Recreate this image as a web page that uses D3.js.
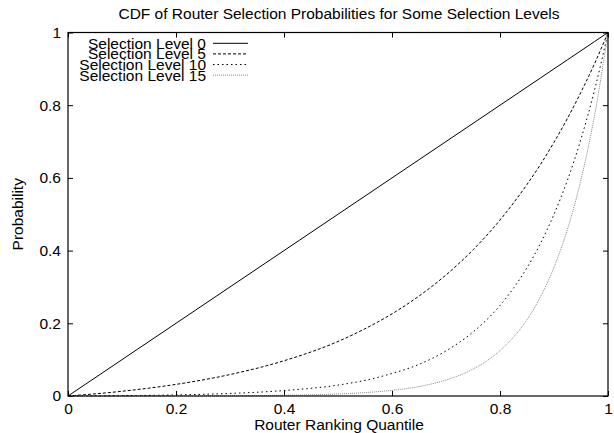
<!DOCTYPE html>
<html>
<head>
<meta charset="utf-8">
<script src="https://cdn.jsdelivr.net/npm/d3@7"></script>
<style>
  body { margin: 0; background: #fff; }
  text { font-family: "Liberation Sans", Arial, sans-serif; fill: #000; }
</style>
</head>
<body>
<svg class="chart"></svg>
<script>
// data
var quantiles = [0, 0.1, 0.2, 0.3, 0.4, 0.5, 0.55, 0.6, 0.65, 0.7, 0.75, 0.8, 0.85, 0.875, 0.9, 0.925, 0.95, 0.975, 1];
var level0  = [0, 0.1, 0.2, 0.3, 0.4, 0.5, 0.55, 0.6, 0.65, 0.7, 0.75, 0.8, 0.85, 0.875, 0.9, 0.925, 0.95, 0.975, 1];
var level5  = [0, 0.013, 0.032, 0.059, 0.097, 0.150, 0.185, 0.226, 0.275, 0.333, 0.402, 0.484, 0.582, 0.637, 0.698, 0.764, 0.836, 0.914, 1];
var level10 = [0, 0.001, 0.003, 0.007, 0.015, 0.030, 0.043, 0.062, 0.087, 0.124, 0.176, 0.249, 0.353, 0.420, 0.500, 0.594, 0.707, 0.841, 1];
var level15 = [0, 0.0001, 0.0002, 0.0007, 0.002, 0.0055, 0.0093, 0.0156, 0.026, 0.044, 0.074, 0.125, 0.210, 0.273, 0.354, 0.459, 0.595, 0.771, 1];
var seriesNames = ["Selection Level 0", "Selection Level 5", "Selection Level 10", "Selection Level 15"];
var xTicks = [0, 0.2, 0.4, 0.6, 0.8, 1];
var yTicks = [0, 0.2, 0.4, 0.6, 0.8, 1];

function show() {
    'use strict';

    var margin = { top: 32.5, bottom: 37, right: 6, left: 68 },
        width = 614 - margin.left - margin.right,
        height = 433 - margin.top - margin.bottom;
    var fontSize = "15.5px";

    var svg = d3.select(".chart")
        .attr("width", 614)
        .attr("height", 433);

    var chart = svg.append("g")
        .attr("transform", "translate(" + margin.left + "," + margin.top + ")");

    var x = d3.scaleLinear().domain([0, 1]).range([0, width]);
    var y = d3.scaleLinear().domain([0, 1]).range([height, 0]);
    var fmt = d3.format("~g");

    // axes with inward ticks on all four sides
    function styleAxis(g) {
        g.select(".domain").remove();
        g.selectAll("line").attr("stroke", "#000");
        g.selectAll("text").style("font-size", fontSize);
    }

    chart.append("g")
        .attr("transform", "translate(0," + height + ")")
        .call(d3.axisBottom(x).tickValues(xTicks).tickFormat(fmt).tickSizeInner(-5).tickSizeOuter(0).tickPadding(7))
        .call(styleAxis);
    chart.append("g")
        .call(d3.axisTop(x).tickValues(xTicks).tickFormat("").tickSizeInner(-5).tickSizeOuter(0))
        .call(styleAxis);
    chart.append("g")
        .call(d3.axisLeft(y).tickValues(yTicks).tickFormat(fmt).tickSizeInner(-5).tickSizeOuter(0).tickPadding(7))
        .call(styleAxis);
    chart.append("g")
        .attr("transform", "translate(" + width + ",0)")
        .call(d3.axisRight(y).tickValues(yTicks).tickFormat("").tickSizeInner(-5).tickSizeOuter(0))
        .call(styleAxis);

    // curves
    var series = [
        { name: seriesNames[0], values: level0,  dash: null,    color: "#000" },
        { name: seriesNames[1], values: level5,  dash: "3,2",   color: "#000" },
        { name: seriesNames[2], values: level10, dash: "1.5,3", color: "#000" },
        { name: seriesNames[3], values: level15, dash: "1,1",   color: "#888" }
    ];

    var line = d3.line()
        .x((d, i) => x(quantiles[i]))
        .y(d => y(d))
        .curve(d3.curveMonotoneX);

    chart.selectAll(".curve").data(series)
      .enter().append("path")
        .attr("class", "curve")
        .attr("fill", "none")
        .attr("stroke", d => d.color)
        .attr("stroke-width", 1)
        .attr("stroke-dasharray", d => d.dash)
        .attr("d", d => line(d.values));

    // frame
    chart.append("rect")
        .attr("width", width)
        .attr("height", height)
        .attr("fill", "none")
        .attr("stroke", "#000")
        .attr("stroke-width", 1.2);

    // legend (gnuplot packs the rows tightly)
    var legend = chart.selectAll(".legend").data(series)
      .enter().append("g")
        .attr("transform", (d, i) => "translate(0," + (10.8 + i * 10.6) + ")");
    legend.append("text")
        .attr("x", 138)
        .attr("dy", "0.35em")
        .attr("text-anchor", "end")
        .style("font-size", fontSize)
        .text(d => d.name);
    legend.append("line")
        .attr("x1", 145).attr("x2", 180)
        .attr("stroke", d => d.color)
        .attr("stroke-dasharray", d => d.dash);

    // titles
    svg.append("text")
        .attr("x", 339).attr("y", 18.5)
        .attr("text-anchor", "middle")
        .style("font-size", fontSize)
        .text("CDF of Router Selection Probabilities for Some Selection Levels");
    svg.append("text")
        .attr("x", 339).attr("y", 430)
        .attr("text-anchor", "middle")
        .style("font-size", fontSize)
        .text("Router Ranking Quantile");
    svg.append("text")
        .attr("transform", "translate(23," + (margin.top + height / 2) + ") rotate(-90)")
        .attr("text-anchor", "middle")
        .style("font-size", fontSize)
        .text("Probability");
}
show();
</script>
</body>
</html>
